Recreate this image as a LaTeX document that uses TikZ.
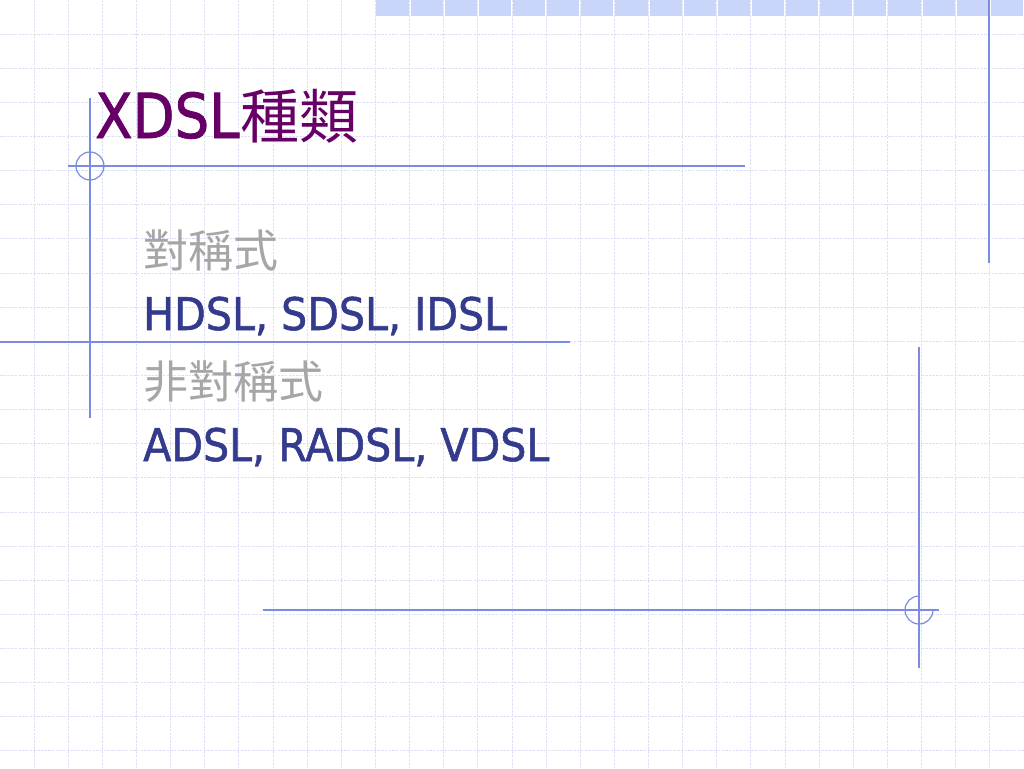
\documentclass[tikz,border=0pt]{standalone}
\usepackage{fontspec}
\newfontfamily\titlefont[FakeStretch=0.88,FakeBold=1.3]{DejaVu Sans}
\newfontfamily\bodyfont[FakeStretch=0.915,FakeBold=1.2]{DejaVu Sans}
\newfontfamily\cjkfont{Noto Sans CJK TC}
\definecolor{gridc}{RGB}{222,224,245}
\definecolor{stripc}{RGB}{201,213,249}
\definecolor{accentc}{RGB}{122,140,226}
\definecolor{titlec}{RGB}{102,0,102}
\definecolor{bodyc}{RGB}{52,58,140}
\definecolor{greyc}{RGB}{166,166,166}
\tikzset{
  gridline/.style={draw=gridc, line width=0.9pt, dash pattern=on 2.5pt off 1.2pt},
  stripcell/.style={fill=stripc},
  accent/.style={draw=accentc, line width=1.2pt},
  txt/.style={inner sep=0pt, anchor=base west},
}
\begin{document}
\begin{tikzpicture}[x=1pt,y=-1pt]
\useasboundingbox (0,0) rectangle (1024,768);
\fill[white] (0,0) rectangle (1024,768);
% grid
\foreach \i in {1,...,29} \draw[gridline] ({\i*34.1333},0) -- ({\i*34.1333},768);
\foreach \j in {1,...,22} \draw[gridline] (0,{\j*34.1333}) -- (1024,{\j*34.1333});
% top strip
\foreach \i in {11,...,29} \fill[stripcell] ({\i*34.1333+1},0) rectangle ({(\i+1)*34.1333-1},16);
% accent lines
\draw[accent] (68,166) -- (745,166);
\draw[accent] (90,98) -- (90,418);
\draw[accent] (90,166) circle[radius=14];
\draw[accent] (0,342) -- (570,342);
\draw[accent] (989,0) -- (989,263);
\draw[accent] (919,347) -- (919,668);
\draw[accent] (263,610) -- (939,610);
\draw[accent] (933,610) arc[start angle=0, end angle=270, radius=14];
% texts
\node[txt, text=titlec, font=\titlefont\fontsize{62}{62}\selectfont] (title) at (95,138) {XDSL};
\node[txt, text=titlec, font=\cjkfont\fontsize{59}{59}\selectfont] (titlecjk) at (title.base east) {種類};
\node[txt, text=greyc, font=\cjkfont\fontsize{45}{45}\selectfont] (l1) at (143,267) {對稱式};
\node[txt, text=bodyc, font=\bodyfont\fontsize{45}{45}\selectfont] (l2) at (143,330) {HDSL, SDSL, IDSL};
\node[txt, text=greyc, font=\cjkfont\fontsize{45}{45}\selectfont] (l3) at (143,398) {非對稱式};
\node[txt, text=bodyc, font=\bodyfont\fontsize{45}{45}\selectfont] (l4) at (143,461) {ADSL, RADSL, VDSL};
\end{tikzpicture}
\end{document}
